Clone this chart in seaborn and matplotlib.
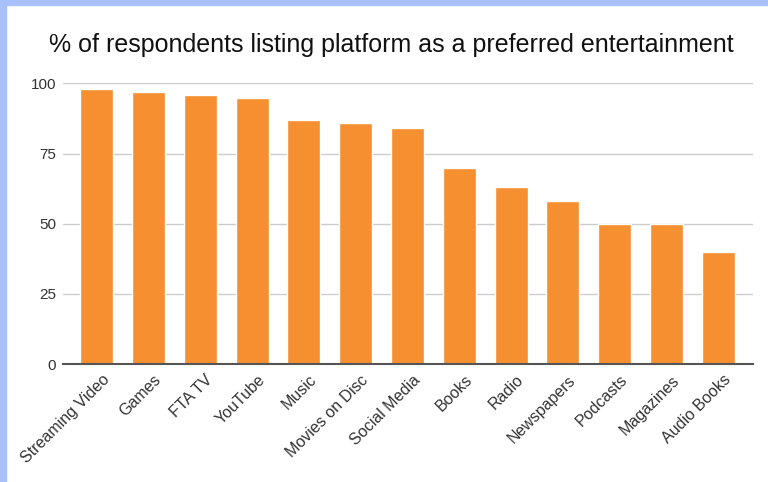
import matplotlib
matplotlib.use("Agg")
import matplotlib.pyplot as plt
import matplotlib.patches as mpatches
import matplotlib.transforms as mtransforms
import seaborn as sns
import pandas as pd

categories = ["Streaming Video", "Games", "FTA TV", "YouTube", "Music", "Movies on Disc",
              "Social Media", "Books", "Radio", "Newspapers", "Podcasts", "Magazines", "Audio Books"]
values = [98, 97, 96, 95, 87, 86, 84, 70, 63, 58, 50, 50, 40]
yticks = [0, 25, 50, 75, 100]
title = "% of respondents listing platform as a preferred entertainment"

sns.set_theme(style="white")
plt.rcParams["font.family"] = ["Liberation Sans", "DejaVu Sans"]

df = pd.DataFrame({"platform": categories, "pct": values})

fig = plt.figure(figsize=(7.68, 4.82), dpi=100)
ax = fig.add_axes([63/768, 1-364/482, (753-63)/768, (364-83.5)/482])

sns.barplot(data=df, x="platform", y="pct", color="#F58F2F", saturation=1,
            width=0.64, ax=ax, zorder=3)

ax.set_ylim(0, 100)
ax.set_xlim(-0.65, len(categories) - 1 + 0.67)
ax.set_yticks(yticks)
ax.set_yticklabels([str(t) for t in yticks], fontsize=11, color="#333333")
ax.yaxis.grid(True, color="#cccccc", linewidth=1, zorder=0)
ax.set_axisbelow(True)
for s in ["left", "right", "top"]:
    ax.spines[s].set_visible(False)
ax.spines["bottom"].set_color("#555555")
ax.spines["bottom"].set_linewidth(1.5)
ax.spines["bottom"].set_zorder(5)
ax.tick_params(axis="y", length=0, pad=5)
ax.tick_params(axis="x", length=0, pad=6)
ax.set_xlabel("")
ax.set_ylabel("")
ax.set_xticks(range(len(categories)))
ax.set_xticklabels(categories, rotation=45, ha="right", va="top", rotation_mode="anchor",
                   fontsize=11.5, color="#333333")
offset = mtransforms.ScaledTranslation(5/100, 0, fig.dpi_scale_trans)
for lbl in ax.get_xticklabels():
    lbl.set_transform(lbl.get_transform() + offset)

fig.text(0.509, 1-45/482, title, ha="center", va="center", fontsize=18, color="#111111")

fig.patches.append(mpatches.Rectangle((0, 0), 6/768, 1, transform=fig.transFigure,
                                      color="#A8C0FC", zorder=0))
fig.patches.append(mpatches.Rectangle((0, 1-5/482), 1, 5/482, transform=fig.transFigure,
                                      color="#A8C0FC", zorder=0))

fig.savefig("out.png", dpi=100, facecolor="white")
